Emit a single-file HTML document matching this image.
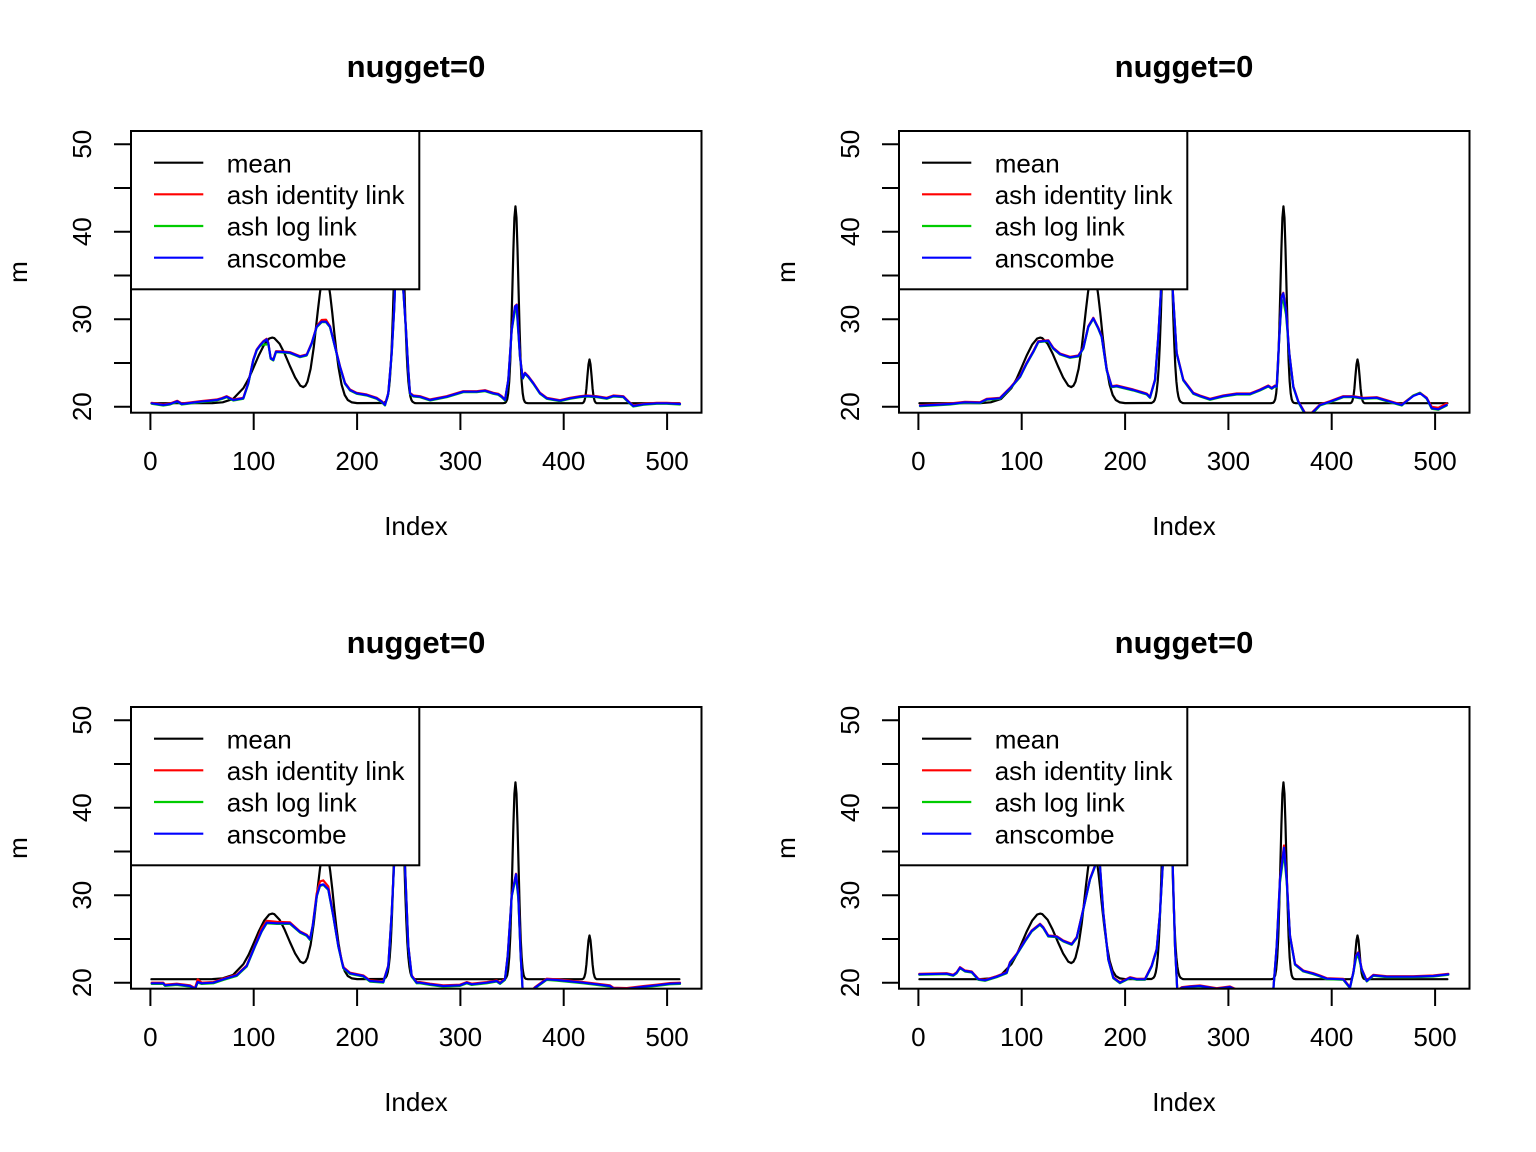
<!DOCTYPE html>
<html><head><meta charset="utf-8"><style>
html,body{margin:0;padding:0;background:#fff;}
svg{display:block;font-family:"Liberation Sans",Arial,sans-serif;}
</style></head><body>
<svg width="1536" height="1152" viewBox="0 0 1536 1152" xmlns="http://www.w3.org/2000/svg">
<defs>
<clipPath id="pc"><rect x="131" y="131" width="570.5" height="281.7"/></clipPath>
</defs>
<rect width="1536" height="1152" fill="#fff"/>

<!-- PANEL 1 -->
<g transform="translate(0,0)">
<text x="416" y="77" font-size="31" font-weight="bold" text-anchor="middle">nugget=0</text>
<g clip-path="url(#pc)" fill="none" stroke-linejoin="round" stroke-linecap="round" stroke-width="2.2">
<polyline stroke="#000" points="151.4,403.2 212.4,403.1 222.7,402.3 233.1,398.9 243.4,388.1 248.6,378.8 253.7,367.2 258.9,355.1 264.1,344.7 269.2,338.5 272.3,337.6 274.4,338.2 279.6,343.8 284.7,353.8 289.9,366.0 295.1,377.4 300.2,385.6 303.3,387.1 305.4,385.7 307.5,381.6 310.6,368.9 313.7,347.7 315.7,329.9 317.8,311.0 319.9,293.2 321.9,279.7 325.0,271.5 328.1,280.6 330.2,294.9 332.3,313.1 334.3,332.8 336.4,351.4 338.5,367.3 341.6,384.7 344.7,395.0 347.8,400.0 351.9,402.4 357.1,403.1 383.55,403.0 385.6,401.7 386.65,400.0 387.7,396.6 388.7,390.8 389.75,381.1 390.8,365.9 391.8,344.3 392.85,315.7 393.9,280.8 394.9,242.1 395.95,203.7 397.0,170.9 398.0,148.6 399.05,140.7 400.1,148.6 401.1,170.9 402.15,203.7 403.2,242.1 404.25,280.8 405.25,315.7 406.3,344.3 407.3,365.9 408.35,381.1 409.4,390.8 410.4,396.6 411.45,400.0 412.5,401.7 414.55,403.0 416,403.2 503.05,403.2 505.1,402.8 506.1,401.8 507.2,399.3 508.2,393.3 509.25,381.3 510.3,360.4 511.3,329.1 512.35,289.5 513.4,249.0 514.4,217.9 515.45,206.3 516.5,217.9 517.5,249.0 518.55,289.5 519.6,329.1 520.6,360.4 521.65,381.3 522.7,393.3 523.7,399.3 524.75,401.8 525.8,402.8 527.85,403.2 582.3,403.2 583.3,402.7 584.3,401.1 585.4,397.0 586.4,388.6 587.4,376.3 588.5,364.4 589.5,359.45 590.5,364.4 591.6,376.3 592.6,388.6 593.6,397.0 594.7,401.1 595.7,402.7 596.7,403.2 679.4,403.2"/>
<g id="p1c">
<polyline stroke="#FF0000" transform="translate(0,-0.5)" points="151.7,403.3 163.3,405 170,404 177.3,401.3 181.7,404 190,403 200,401.7 216.7,400 222,398.5 226.7,396.7 230,398.5 233.3,400 243.3,398.3 248.3,383.3 253.3,360 256.7,350 260,345.5 263.3,341.7 266.7,339.3 268.3,343.3 270.7,358.3 273.3,360 276,351.7 283,352 290,352.7 300,356.7 306.7,355 311.7,343.3 316.7,326.7 321.7,320.5 326,320.2 330,326.7 335,346.7 340,366.7 345,383.3 350,390 356.7,393.3 366.7,395 376.7,398.3 381.7,401.7 385,405 388.3,393.3 391.7,353.3 394.3,306.7 396,260 398,200 401,200 402,250 403.3,290 406,330 408.3,370 410,393.3 413.3,396 420,396.7 430,400 446.7,396.7 463.3,391.7 476.7,391.7 485,390.7 493.3,393.3 498.3,394.3 501.7,396.7 505,400 508.3,380 511.7,330 515,306.7 516.7,305 518.3,330 520,356.7 522.7,378.3 525,373.3 528.3,376.7 533.3,383.3 540,393.3 546.7,398.3 560,400.7 570,398.3 580,396.7 586.7,396 596.7,396.7 606.7,398.3 613.3,396 623.3,396.7 628.3,401.7 633.3,406 643.3,404.3 656.7,403.3 666.7,403.3 680,404"/>
<polyline stroke="#00CC00" transform="translate(0,0.5)" points="151.7,403.3 163.3,405 170,404 177.3,401.3 181.7,404 190,403 200,401.7 216.7,400 222,398.5 226.7,396.7 230,398.5 233.3,400 243.3,398.3 248.3,383.3 253.3,360 256.7,350 260,345.5 263.3,344 266.7,344 268.3,343.3 270.7,358.3 273.3,360 276,351.7 283,352 290,352.7 300,356.7 306.7,355 311.7,343.3 316.7,326.7 321.7,321.7 326,321.7 330,326.7 335,346.7 340,366.7 345,383.3 350,390 356.7,393.3 366.7,395 376.7,398.3 381.7,401.7 385,405 388.3,393.3 391.7,353.3 394.3,306.7 396,260 398,200 401,200 402,250 403.3,290 406,330 408.3,370 410,393.3 413.3,396 420,396.7 430,400 446.7,396.7 463.3,391.7 476.7,391.7 485,390.7 493.3,393.3 498.3,394.3 501.7,396.7 505,400 508.3,380 511.7,330 515,310 516.7,309 518.3,332 520,356.7 522.7,378.3 525,373.3 528.3,376.7 533.3,383.3 540,393.3 546.7,398.3 560,400.7 570,398.3 580,396.7 586.7,396 596.7,396.7 606.7,398.3 613.3,396 623.3,396.7 628.3,401.7 633.3,406 643.3,404.3 656.7,403.3 666.7,403.3 680,404"/>
<polyline stroke="#0000FF" points="151.7,403.3 163.3,405 170,404 177.3,401.3 181.7,404 190,403 200,401.7 216.7,400 222,398.5 226.7,396.7 230,398.5 233.3,400 243.3,398.3 248.3,383.3 253.3,360 256.7,350 260,345.5 263.3,341.7 266.7,339.3 268.3,343.3 270.7,358.3 273.3,360 276,351.7 283,352 290,352.7 300,356.7 306.7,355 311.7,343.3 316.7,326.7 321.7,321.7 326,321.7 330,326.7 335,346.7 340,366.7 345,383.3 350,390 356.7,393.3 366.7,395 376.7,398.3 381.7,401.7 385,405 388.3,393.3 391.7,353.3 394.3,306.7 396,260 398,200 401,200 402,250 403.3,290 406,330 408.3,370 410,393.3 413.3,396 420,396.7 430,400 446.7,396.7 463.3,391.7 476.7,391.7 485,390.7 493.3,393.3 498.3,394.3 501.7,396.7 505,400 508.3,380 511.7,330 515,306.7 516.7,305 518.3,330 520,356.7 522.7,378.3 525,373.3 528.3,376.7 533.3,383.3 540,393.3 546.7,398.3 560,400.7 570,398.3 580,396.7 586.7,396 596.7,396.7 606.7,398.3 613.3,396 623.3,396.7 628.3,401.7 633.3,406 643.3,404.3 656.7,403.3 666.7,403.3 680,404"/>
</g>
</g>
<rect x="131" y="131" width="288.3" height="158.3" fill="#fff" stroke="#000" stroke-width="2"/>
<g stroke-width="2.2"><line x1="154" y1="162.7" x2="203.3" y2="162.7" stroke="#000"/><line x1="154" y1="194.3" x2="203.3" y2="194.3" stroke="#FF0000"/><line x1="154" y1="226" x2="203.3" y2="226" stroke="#00CC00"/><line x1="154" y1="257.7" x2="203.3" y2="257.7" stroke="#0000FF"/></g>
<g font-size="26"><text x="226.7" y="172.5">mean</text><text x="226.7" y="204">ash identity link</text><text x="226.7" y="235.7">ash log link</text><text x="226.7" y="267.3">anscombe</text></g>
<rect x="131" y="131" width="570.5" height="281.7" fill="none" stroke="#000" stroke-width="2"/>
<g stroke="#000" stroke-width="2"><line x1="150.4" y1="412.7" x2="150.4" y2="430"/><line x1="253.7" y1="412.7" x2="253.7" y2="430"/><line x1="357.1" y1="412.7" x2="357.1" y2="430"/><line x1="460.4" y1="412.7" x2="460.4" y2="430"/><line x1="563.7" y1="412.7" x2="563.7" y2="430"/><line x1="667.1" y1="412.7" x2="667.1" y2="430"/>
<line x1="114" y1="406.7" x2="131" y2="406.7"/><line x1="114" y1="363" x2="131" y2="363"/><line x1="114" y1="319.2" x2="131" y2="319.2"/><line x1="114" y1="275.5" x2="131" y2="275.5"/><line x1="114" y1="231.7" x2="131" y2="231.7"/><line x1="114" y1="188" x2="131" y2="188"/><line x1="114" y1="144.2" x2="131" y2="144.2"/></g>
<g font-size="26" text-anchor="middle"><text x="150.4" y="470">0</text><text x="253.7" y="470">100</text><text x="357.1" y="470">200</text><text x="460.4" y="470">300</text><text x="563.7" y="470">400</text><text x="667.1" y="470">500</text>
<text transform="translate(91,406.7) rotate(-90)">20</text><text transform="translate(91,319.2) rotate(-90)">30</text><text transform="translate(91,231.7) rotate(-90)">40</text><text transform="translate(91,144.2) rotate(-90)">50</text>
<text x="416" y="535">Index</text><text transform="translate(27,272) rotate(-90)">m</text></g>
</g>

<!-- PANEL 2 -->
<g transform="translate(768,0)">
<text x="416" y="77" font-size="31" font-weight="bold" text-anchor="middle">nugget=0</text>
<g clip-path="url(#pc)" fill="none" stroke-linejoin="round" stroke-linecap="round" stroke-width="2.2">
<polyline stroke="#000" points="151.4,403.2 212.4,403.1 222.7,402.3 233.1,398.9 243.4,388.1 248.6,378.8 253.7,367.2 258.9,355.1 264.1,344.7 269.2,338.5 272.3,337.6 274.4,338.2 279.6,343.8 284.7,353.8 289.9,366.0 295.1,377.4 300.2,385.6 303.3,387.1 305.4,385.7 307.5,381.6 310.6,368.9 313.7,347.7 315.7,329.9 317.8,311.0 319.9,293.2 321.9,279.7 325.0,271.5 328.1,280.6 330.2,294.9 332.3,313.1 334.3,332.8 336.4,351.4 338.5,367.3 341.6,384.7 344.7,395.0 347.8,400.0 351.9,402.4 357.1,403.1 383.55,403.0 385.6,401.7 386.65,400.0 387.7,396.6 388.7,390.8 389.75,381.1 390.8,365.9 391.8,344.3 392.85,315.7 393.9,280.8 394.9,242.1 395.95,203.7 397.0,170.9 398.0,148.6 399.05,140.7 400.1,148.6 401.1,170.9 402.15,203.7 403.2,242.1 404.25,280.8 405.25,315.7 406.3,344.3 407.3,365.9 408.35,381.1 409.4,390.8 410.4,396.6 411.45,400.0 412.5,401.7 414.55,403.0 416,403.2 503.05,403.2 505.1,402.8 506.1,401.8 507.2,399.3 508.2,393.3 509.25,381.3 510.3,360.4 511.3,329.1 512.35,289.5 513.4,249.0 514.4,217.9 515.45,206.3 516.5,217.9 517.5,249.0 518.55,289.5 519.6,329.1 520.6,360.4 521.65,381.3 522.7,393.3 523.7,399.3 524.75,401.8 525.8,402.8 527.85,403.2 582.3,403.2 583.3,402.7 584.3,401.1 585.4,397.0 586.4,388.6 587.4,376.3 588.5,364.4 589.5,359.45 590.5,364.4 591.6,376.3 592.6,388.6 593.6,397.0 594.7,401.1 595.7,402.7 596.7,403.2 679.4,403.2"/>
<polyline stroke="#FF0000" transform="translate(0,-0.5)" points="152,405.7 165,405 182,404 197,402.3 212,402.7 218.7,399.3 232,398.3 242,388.3 252,376.7 258.7,363.3 265.3,351.7 270.3,341.7 280.3,340.7 285.3,348.3 292,354 302,357.3 310.3,356 315.3,348.3 320.3,326.7 325.3,318.3 330.3,328.3 333.7,336.7 338.7,370 343.7,386.7 348.7,386 365.3,390 378.7,394 382,397.3 387,380 390.3,336.7 393,290 396,230 399,200 402,230 404.7,290 408.7,353.3 415.3,380 425.3,393.3 432,396 442,399.3 455.3,396 468.7,394 482,394 492,390 500.3,386 503.7,388.3 507,386 508.7,386.7 511.3,336.7 513.7,296.7 515.3,293.3 518,310 521.3,353.3 525.3,386.7 530.3,401.7 537,413.3 543.7,413.3 552,405 562,401.7 575.3,396.7 585.3,396.7 595.3,398.3 608.7,397.7 622,401.7 633.7,405 645.3,396 652,393.3 658.7,398.3 663.7,407.3 670.3,408.3 678.7,404"/>
<polyline stroke="#00CC00" transform="translate(0,0.5)" points="152,405.7 165,405 182,404 197,402.3 212,402.7 218.7,399.3 232,398.3 242,388.3 252,376.7 258.7,363.3 265.3,351.7 270.3,341.7 280.3,340.7 285.3,348.3 292,354 302,357.3 310.3,356 315.3,348.3 320.3,326.7 325.3,318.3 330.3,328.3 333.7,336.7 338.7,370 343.7,386.7 348.7,386 365.3,390 378.7,394 382,397.3 387,380 390.3,336.7 393,290 396,230 399,200 402,230 404.7,290 408.7,353.3 415.3,380 425.3,393.3 432,396 442,399.3 455.3,396 468.7,394 482,394 492,390 500.3,386 503.7,388.3 507,386 508.7,386.7 511.3,336.7 513.7,300 515.3,300 518,314 521.3,353.3 525.3,386.7 530.3,401.7 537,414 543.7,414 552,405 562,401.7 575.3,396.7 585.3,396.7 595.3,398.3 608.7,397.7 622,401.7 633.7,405 645.3,395 652,392.3 658.7,398.3 663.7,408.3 670.3,409.3 678.7,405"/>
<polyline stroke="#0000FF" points="152,405.7 165,405 182,404 197,402.3 212,402.7 218.7,399.3 232,398.3 242,388.3 252,376.7 258.7,363.3 265.3,351.7 270.3,341.7 280.3,340.7 285.3,348.3 292,354 302,357.3 310.3,356 315.3,348.3 320.3,326.7 325.3,318.3 330.3,328.3 333.7,336.7 338.7,370 343.7,386.7 348.7,386 365.3,390 378.7,394 382,397.3 387,380 390.3,336.7 393,290 396,230 399,200 402,230 404.7,290 408.7,353.3 415.3,380 425.3,393.3 432,396 442,399.3 455.3,396 468.7,394 482,394 492,390 500.3,386 503.7,388.3 507,386 508.7,386.7 511.3,336.7 513.7,296.7 515.3,293.3 518,310 521.3,353.3 525.3,386.7 530.3,401.7 537,413.3 543.7,413.3 552,405 562,401.7 575.3,396.7 585.3,396.7 595.3,398.3 608.7,397.7 622,401.7 633.7,405 645.3,396 652,393.3 658.7,398.3 663.7,408.3 670.3,409.3 678.7,405"/>
</g>
<rect x="131" y="131" width="288.3" height="158.3" fill="#fff" stroke="#000" stroke-width="2"/>
<g stroke-width="2.2"><line x1="154" y1="162.7" x2="203.3" y2="162.7" stroke="#000"/><line x1="154" y1="194.3" x2="203.3" y2="194.3" stroke="#FF0000"/><line x1="154" y1="226" x2="203.3" y2="226" stroke="#00CC00"/><line x1="154" y1="257.7" x2="203.3" y2="257.7" stroke="#0000FF"/></g>
<g font-size="26"><text x="226.7" y="172.5">mean</text><text x="226.7" y="204">ash identity link</text><text x="226.7" y="235.7">ash log link</text><text x="226.7" y="267.3">anscombe</text></g>
<rect x="131" y="131" width="570.5" height="281.7" fill="none" stroke="#000" stroke-width="2"/>
<g stroke="#000" stroke-width="2"><line x1="150.4" y1="412.7" x2="150.4" y2="430"/><line x1="253.7" y1="412.7" x2="253.7" y2="430"/><line x1="357.1" y1="412.7" x2="357.1" y2="430"/><line x1="460.4" y1="412.7" x2="460.4" y2="430"/><line x1="563.7" y1="412.7" x2="563.7" y2="430"/><line x1="667.1" y1="412.7" x2="667.1" y2="430"/>
<line x1="114" y1="406.7" x2="131" y2="406.7"/><line x1="114" y1="363" x2="131" y2="363"/><line x1="114" y1="319.2" x2="131" y2="319.2"/><line x1="114" y1="275.5" x2="131" y2="275.5"/><line x1="114" y1="231.7" x2="131" y2="231.7"/><line x1="114" y1="188" x2="131" y2="188"/><line x1="114" y1="144.2" x2="131" y2="144.2"/></g>
<g font-size="26" text-anchor="middle"><text x="150.4" y="470">0</text><text x="253.7" y="470">100</text><text x="357.1" y="470">200</text><text x="460.4" y="470">300</text><text x="563.7" y="470">400</text><text x="667.1" y="470">500</text>
<text transform="translate(91,406.7) rotate(-90)">20</text><text transform="translate(91,319.2) rotate(-90)">30</text><text transform="translate(91,231.7) rotate(-90)">40</text><text transform="translate(91,144.2) rotate(-90)">50</text>
<text x="416" y="535">Index</text><text transform="translate(27,272) rotate(-90)">m</text></g>
</g>

<!-- PANEL 3 -->
<g transform="translate(0,576)">
<text x="416" y="77" font-size="31" font-weight="bold" text-anchor="middle">nugget=0</text>
<g clip-path="url(#pc)" fill="none" stroke-linejoin="round" stroke-linecap="round" stroke-width="2.2">
<polyline stroke="#000" points="151.4,403.2 212.4,403.1 222.7,402.3 233.1,398.9 243.4,388.1 248.6,378.8 253.7,367.2 258.9,355.1 264.1,344.7 269.2,338.5 272.3,337.6 274.4,338.2 279.6,343.8 284.7,353.8 289.9,366.0 295.1,377.4 300.2,385.6 303.3,387.1 305.4,385.7 307.5,381.6 310.6,368.9 313.7,347.7 315.7,329.9 317.8,311.0 319.9,293.2 321.9,279.7 325.0,271.5 328.1,280.6 330.2,294.9 332.3,313.1 334.3,332.8 336.4,351.4 338.5,367.3 341.6,384.7 344.7,395.0 347.8,400.0 351.9,402.4 357.1,403.1 383.55,403.0 385.6,401.7 386.65,400.0 387.7,396.6 388.7,390.8 389.75,381.1 390.8,365.9 391.8,344.3 392.85,315.7 393.9,280.8 394.9,242.1 395.95,203.7 397.0,170.9 398.0,148.6 399.05,140.7 400.1,148.6 401.1,170.9 402.15,203.7 403.2,242.1 404.25,280.8 405.25,315.7 406.3,344.3 407.3,365.9 408.35,381.1 409.4,390.8 410.4,396.6 411.45,400.0 412.5,401.7 414.55,403.0 416,403.2 503.05,403.2 505.1,402.8 506.1,401.8 507.2,399.3 508.2,393.3 509.25,381.3 510.3,360.4 511.3,329.1 512.35,289.5 513.4,249.0 514.4,217.9 515.45,206.3 516.5,217.9 517.5,249.0 518.55,289.5 519.6,329.1 520.6,360.4 521.65,381.3 522.7,393.3 523.7,399.3 524.75,401.8 525.8,402.8 527.85,403.2 582.3,403.2 583.3,402.7 584.3,401.1 585.4,397.0 586.4,388.6 587.4,376.3 588.5,364.4 589.5,359.45 590.5,364.4 591.6,376.3 592.6,388.6 593.6,397.0 594.7,401.1 595.7,402.7 596.7,403.2 679.4,403.2"/>
<polyline stroke="#FF0000" transform="translate(0,-0.6)" points="151.7,407.3 163.3,407.3 165,409.3 176.7,408.3 190,410 195,412.7 197.7,404 201.7,407.3 213.3,406.7 223.3,403.3 236.7,399.3 246.7,390 255,370 261.7,353 266.7,345.5 276.7,346.5 290,347 300,356 306.7,359.3 310,363.3 312.7,350 316.7,318 320,306 323.3,305 328.3,311 333.3,340 338.3,370 343.3,391.7 350,397.3 363.3,400 370,405 383.3,406 388.3,390 391.7,336.7 394,290 397,220 400,200 403,220 405,290 408.3,370 411.7,400 416.7,406.7 420,406.7 430,408.3 443.3,410 460,409.3 466.7,406.7 471.7,408.3 486.7,406.7 496.7,405 500,407.3 505,403.3 507.7,380 511.7,320 516,298.3 518.3,320 520.7,380 522.7,415 531.7,415 535,411.7 546.7,403.3 556.7,404 566.7,405 583.3,406.7 596.7,408.3 610,410 613.3,412.3 626.7,412.7 643.3,410.7 656.7,409.3 670,407.7 680,407.3"/>
<polyline stroke="#00CC00" transform="translate(0,0.6)" points="151.7,407.3 163.3,407.3 165,409.3 176.7,408.3 190,410 195,412.7 197.7,406 201.7,407.3 213.3,406.7 223.3,403.3 236.7,399.3 246.7,390 255,370 261.7,355 266.7,346.7 276.7,347.3 290,347.3 300,356 306.7,359.3 310,363.3 312.7,350 316.7,320 320,309.3 323.3,308.3 328.3,313.3 333.3,340 338.3,370 343.3,391.7 350,397.3 363.3,400 370,405 383.3,406 388.3,390 391.7,336.7 394,290 397,220 400,200 403,220 405,290 408.3,370 411.7,400 416.7,406.7 420,406.7 430,408.3 443.3,410 460,409.3 466.7,406.7 471.7,408.3 486.7,406.7 496.7,405 500,407.3 505,403.3 507.7,380 511.7,320 516,300 518.3,322 520.7,380 522.7,415 531.7,415 535,411.7 546.7,403.3 556.7,404 566.7,405 583.3,406.7 596.7,408.3 610,410 613.3,412.3 626.7,412.7 643.3,410.7 656.7,409.3 670,407.7 680,407.3"/>
<polyline stroke="#0000FF" points="151.7,407.3 163.3,407.3 165,409.3 176.7,408.3 190,410 195,412.7 197.7,406 201.7,407.3 213.3,406.7 223.3,403.3 236.7,399.3 246.7,390 255,370 261.7,355 266.7,346.7 276.7,347.3 290,347.3 300,356 306.7,359.3 310,363.3 312.7,350 316.7,320 320,309.3 323.3,308.3 328.3,313.3 333.3,340 338.3,370 343.3,391.7 350,397.3 363.3,400 370,405 383.3,406 388.3,390 391.7,336.7 394,290 397,220 400,200 403,220 405,290 408.3,370 411.7,400 416.7,406.7 420,406.7 430,408.3 443.3,410 460,409.3 466.7,406.7 471.7,408.3 486.7,406.7 496.7,405 500,407.3 505,403.3 507.7,380 511.7,320 516,298.3 518.3,320 520.7,380 522.7,415 531.7,415 535,411.7 546.7,403.3 556.7,404 566.7,405 583.3,406.7 596.7,408.3 610,410 613.3,412.3 626.7,412.7 643.3,410.7 656.7,409.3 670,407.7 680,407.3"/>
</g>
<rect x="131" y="131" width="288.3" height="158.3" fill="#fff" stroke="#000" stroke-width="2"/>
<g stroke-width="2.2"><line x1="154" y1="162.7" x2="203.3" y2="162.7" stroke="#000"/><line x1="154" y1="194.3" x2="203.3" y2="194.3" stroke="#FF0000"/><line x1="154" y1="226" x2="203.3" y2="226" stroke="#00CC00"/><line x1="154" y1="257.7" x2="203.3" y2="257.7" stroke="#0000FF"/></g>
<g font-size="26"><text x="226.7" y="172.5">mean</text><text x="226.7" y="204">ash identity link</text><text x="226.7" y="235.7">ash log link</text><text x="226.7" y="267.3">anscombe</text></g>
<rect x="131" y="131" width="570.5" height="281.7" fill="none" stroke="#000" stroke-width="2"/>
<g stroke="#000" stroke-width="2"><line x1="150.4" y1="412.7" x2="150.4" y2="430"/><line x1="253.7" y1="412.7" x2="253.7" y2="430"/><line x1="357.1" y1="412.7" x2="357.1" y2="430"/><line x1="460.4" y1="412.7" x2="460.4" y2="430"/><line x1="563.7" y1="412.7" x2="563.7" y2="430"/><line x1="667.1" y1="412.7" x2="667.1" y2="430"/>
<line x1="114" y1="406.7" x2="131" y2="406.7"/><line x1="114" y1="363" x2="131" y2="363"/><line x1="114" y1="319.2" x2="131" y2="319.2"/><line x1="114" y1="275.5" x2="131" y2="275.5"/><line x1="114" y1="231.7" x2="131" y2="231.7"/><line x1="114" y1="188" x2="131" y2="188"/><line x1="114" y1="144.2" x2="131" y2="144.2"/></g>
<g font-size="26" text-anchor="middle"><text x="150.4" y="470">0</text><text x="253.7" y="470">100</text><text x="357.1" y="470">200</text><text x="460.4" y="470">300</text><text x="563.7" y="470">400</text><text x="667.1" y="470">500</text>
<text transform="translate(91,406.7) rotate(-90)">20</text><text transform="translate(91,319.2) rotate(-90)">30</text><text transform="translate(91,231.7) rotate(-90)">40</text><text transform="translate(91,144.2) rotate(-90)">50</text>
<text x="416" y="535">Index</text><text transform="translate(27,272) rotate(-90)">m</text></g>
</g>

<!-- PANEL 4 -->
<g transform="translate(768,576)">
<text x="416" y="77" font-size="31" font-weight="bold" text-anchor="middle">nugget=0</text>
<g clip-path="url(#pc)" fill="none" stroke-linejoin="round" stroke-linecap="round" stroke-width="2.2">
<polyline stroke="#000" points="151.4,403.2 212.4,403.1 222.7,402.3 233.1,398.9 243.4,388.1 248.6,378.8 253.7,367.2 258.9,355.1 264.1,344.7 269.2,338.5 272.3,337.6 274.4,338.2 279.6,343.8 284.7,353.8 289.9,366.0 295.1,377.4 300.2,385.6 303.3,387.1 305.4,385.7 307.5,381.6 310.6,368.9 313.7,347.7 315.7,329.9 317.8,311.0 319.9,293.2 321.9,279.7 325.0,271.5 328.1,280.6 330.2,294.9 332.3,313.1 334.3,332.8 336.4,351.4 338.5,367.3 341.6,384.7 344.7,395.0 347.8,400.0 351.9,402.4 357.1,403.1 383.55,403.0 385.6,401.7 386.65,400.0 387.7,396.6 388.7,390.8 389.75,381.1 390.8,365.9 391.8,344.3 392.85,315.7 393.9,280.8 394.9,242.1 395.95,203.7 397.0,170.9 398.0,148.6 399.05,140.7 400.1,148.6 401.1,170.9 402.15,203.7 403.2,242.1 404.25,280.8 405.25,315.7 406.3,344.3 407.3,365.9 408.35,381.1 409.4,390.8 410.4,396.6 411.45,400.0 412.5,401.7 414.55,403.0 416,403.2 503.05,403.2 505.1,402.8 506.1,401.8 507.2,399.3 508.2,393.3 509.25,381.3 510.3,360.4 511.3,329.1 512.35,289.5 513.4,249.0 514.4,217.9 515.45,206.3 516.5,217.9 517.5,249.0 518.55,289.5 519.6,329.1 520.6,360.4 521.65,381.3 522.7,393.3 523.7,399.3 524.75,401.8 525.8,402.8 527.85,403.2 582.3,403.2 583.3,402.7 584.3,401.1 585.4,397.0 586.4,388.6 587.4,376.3 588.5,364.4 589.5,359.45 590.5,364.4 591.6,376.3 592.6,388.6 593.6,397.0 594.7,401.1 595.7,402.7 596.7,403.2 679.4,403.2"/>
<polyline stroke="#FF0000" transform="translate(0,-0.5)" points="151.3,398.3 178.7,397.7 185.3,399.3 188.7,396.7 192,391.7 197,395 203.7,396 210.3,403.3 217,404.3 228.7,400.7 238.7,396.7 242,386.7 248.7,378.3 257,365 263.7,355 272,348.3 275.3,351.7 280.3,360 288.7,360.7 295.3,365 303.7,368.3 308.7,361.7 315.3,333.3 322,303.3 327,290 329,270 331,270 332,290 335.3,336.7 340.3,383.3 345.3,401.7 352,406.7 362,401.7 368.7,403.3 377,403.3 383.7,390 388.7,373.3 392,336.7 394.7,290 397,230 400,200 403,230 404.7,290 407,370 409.3,415 413.7,411.7 422,410.7 432,410 448.7,412.7 462,411 468.7,414 505.3,414 508.7,370 512,303.3 516,270 518.7,303.3 522,360 527,388.3 535.3,395 545.3,397.7 552,400 558.7,402.7 575.3,403.3 582,411.7 585.3,396.7 588,380 590.3,376.7 593.7,393.3 598.7,405 605.3,399.3 618.7,400.7 645.3,400.7 665.3,400 680.3,398.3"/>
<polyline stroke="#00CC00" transform="translate(0,0.5)" points="151.3,398.3 178.7,397.7 185.3,399.3 188.7,396.7 192,391.7 197,395 203.7,396 210.3,403.3 217,404.3 228.7,400.7 238.7,396.7 242,386.7 248.7,378.3 257,365 263.7,355 272,348.3 275.3,351.7 280.3,360 288.7,360.7 295.3,365 303.7,368.3 308.7,361.7 315.3,333.3 322,303.3 327,290 329,270 331,270 332,290 335.3,336.7 340.3,383.3 345.3,401.7 352,406.7 362,401.7 368.7,403.3 377,403.3 383.7,390 388.7,373.3 392,336.7 394.7,290 397,230 400,200 403,230 404.7,290 407,370 409.3,415 413.7,411.7 422,410.7 432,410 448.7,412.7 462,411 468.7,414 505.3,414 508.7,370 512,306 516,276 518.7,306 522,360 527,388.3 535.3,395 545.3,397.7 552,400 558.7,402.7 575.3,403.3 582,411.7 585.3,396.7 588,382 590.3,379 593.7,393.3 598.7,405 605.3,399.3 618.7,400.7 645.3,400.7 665.3,400 680.3,398.3"/>
<polyline stroke="#0000FF" points="151.3,398.3 178.7,397.7 185.3,399.3 188.7,396.7 192,391.7 197,395 203.7,396 210.3,403.3 217,404.3 228.7,400.7 238.7,396.7 242,386.7 248.7,378.3 257,365 263.7,355 272,348.3 275.3,351.7 280.3,360 288.7,360.7 295.3,365 303.7,368.3 308.7,361.7 315.3,333.3 322,303.3 327,290 329,270 331,270 332,290 335.3,336.7 340.3,383.3 345.3,401.7 352,406.7 362,401.7 368.7,403.3 377,403.3 383.7,390 388.7,373.3 392,336.7 394.7,290 397,230 400,200 403,230 404.7,290 407,370 409.3,415 413.7,411.7 422,410.7 432,410 448.7,412.7 462,411 468.7,414 505.3,414 508.7,370 512,303.3 516,271.7 518.7,303.3 522,360 527,388.3 535.3,395 545.3,397.7 552,400 558.7,402.7 575.3,403.3 582,411.7 585.3,396.7 588,380 590.3,376.7 593.7,393.3 598.7,405 605.3,399.3 618.7,400.7 645.3,400.7 665.3,400 680.3,398.3"/>
</g>
<rect x="131" y="131" width="288.3" height="158.3" fill="#fff" stroke="#000" stroke-width="2"/>
<g stroke-width="2.2"><line x1="154" y1="162.7" x2="203.3" y2="162.7" stroke="#000"/><line x1="154" y1="194.3" x2="203.3" y2="194.3" stroke="#FF0000"/><line x1="154" y1="226" x2="203.3" y2="226" stroke="#00CC00"/><line x1="154" y1="257.7" x2="203.3" y2="257.7" stroke="#0000FF"/></g>
<g font-size="26"><text x="226.7" y="172.5">mean</text><text x="226.7" y="204">ash identity link</text><text x="226.7" y="235.7">ash log link</text><text x="226.7" y="267.3">anscombe</text></g>
<rect x="131" y="131" width="570.5" height="281.7" fill="none" stroke="#000" stroke-width="2"/>
<g stroke="#000" stroke-width="2"><line x1="150.4" y1="412.7" x2="150.4" y2="430"/><line x1="253.7" y1="412.7" x2="253.7" y2="430"/><line x1="357.1" y1="412.7" x2="357.1" y2="430"/><line x1="460.4" y1="412.7" x2="460.4" y2="430"/><line x1="563.7" y1="412.7" x2="563.7" y2="430"/><line x1="667.1" y1="412.7" x2="667.1" y2="430"/>
<line x1="114" y1="406.7" x2="131" y2="406.7"/><line x1="114" y1="363" x2="131" y2="363"/><line x1="114" y1="319.2" x2="131" y2="319.2"/><line x1="114" y1="275.5" x2="131" y2="275.5"/><line x1="114" y1="231.7" x2="131" y2="231.7"/><line x1="114" y1="188" x2="131" y2="188"/><line x1="114" y1="144.2" x2="131" y2="144.2"/></g>
<g font-size="26" text-anchor="middle"><text x="150.4" y="470">0</text><text x="253.7" y="470">100</text><text x="357.1" y="470">200</text><text x="460.4" y="470">300</text><text x="563.7" y="470">400</text><text x="667.1" y="470">500</text>
<text transform="translate(91,406.7) rotate(-90)">20</text><text transform="translate(91,319.2) rotate(-90)">30</text><text transform="translate(91,231.7) rotate(-90)">40</text><text transform="translate(91,144.2) rotate(-90)">50</text>
<text x="416" y="535">Index</text><text transform="translate(27,272) rotate(-90)">m</text></g>
</g>
</svg>
</body></html>
